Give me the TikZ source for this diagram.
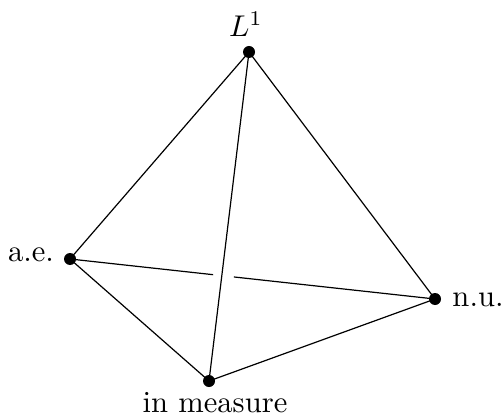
\documentclass[tikz,border=0pt]{standalone}
\usetikzlibrary{calc}
\begin{document}
\begin{tikzpicture}[x=0.3333pt,y=-0.3333pt,
  edge/.style={line width=0.4pt},
  dotn/.style={circle,fill=black,inner sep=0pt,minimum size=4pt},
  lab/.style={inner sep=0pt,font=\fontsize{10.2}{12}\selectfont}]
\useasboundingbox (0,0) rectangle (503,420);
\node[dotn] (L) at (249,52) {};
\node[dotn] (ae) at (70,259) {};
\node[dotn] (nu) at (435,299) {};
\node[dotn] (im) at (209,381) {};
\node[lab] (tL) at (246,24) {$L^1$};
\node[lab] (tae) at (31,255) {a.e.};
\node[lab] (tnu) at (478,300) {n.u.};
\node[lab] (tim) at (215,403) {in measure};
\draw[edge] (L.center) -- (ae.center);
\draw[edge] (L.center) -- (nu.center);
\draw[edge] (L.center) -- (im.center);
\draw[edge] (ae.center) -- (im.center);
\draw[edge] (im.center) -- (nu.center);
\draw[edge] (ae.center) -- ($(ae.center)!0.392!(nu.center)$);
\draw[edge] ($(ae.center)!0.449!(nu.center)$) -- (nu.center);
\end{tikzpicture}
\end{document}
